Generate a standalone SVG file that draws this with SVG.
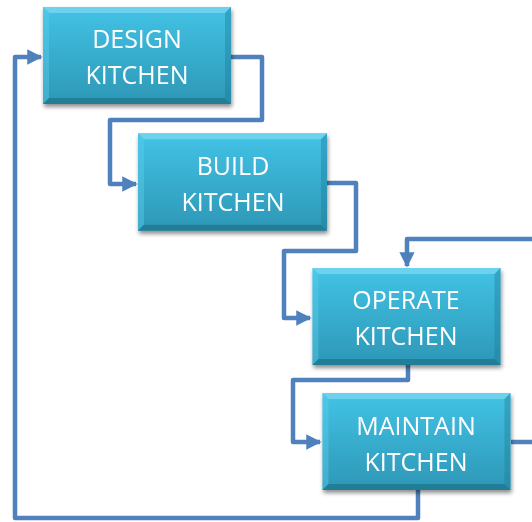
<svg xmlns="http://www.w3.org/2000/svg" width="532" height="522" viewBox="0 0 532 522">
<defs>
<linearGradient id="g" x1="0" y1="0" x2="0" y2="1">
<stop offset="0" stop-color="#42C3E6"/>
<stop offset="1" stop-color="#2D97B6"/>
</linearGradient>
<filter id="sh" x="-10%" y="-10%" width="130%" height="140%">
<feGaussianBlur in="SourceAlpha" stdDeviation="2"/>
<feOffset dx="1" dy="3" result="b"/>
<feComponentTransfer><feFuncA type="linear" slope="0.45"/></feComponentTransfer>
<feMerge><feMergeNode/><feMergeNode in="SourceGraphic"/></feMerge>
</filter>
<marker id="ar" viewBox="0 0 10 10" refX="9" refY="5" markerWidth="3.4" markerHeight="3.4" orient="auto" markerUnits="strokeWidth">
<path d="M0,0 L10,5 L0,10 z" fill="#4F81BD"/>
</marker>
<symbol id="box" viewBox="0 0 188 97" overflow="visible">
<rect x="0" y="0" width="188" height="97" fill="url(#g)"/>
<polygon points="0,0 188,0 182,6 6,6" fill="#8FE0F5" opacity="0.55"/>
<polygon points="0,0 6,6 6,91 0,97" fill="#5FD0EE" opacity="0.4"/>
<polygon points="188,0 188,97 182,91 182,6" fill="#1E7A95" opacity="0.4"/>
<polygon points="0,97 6,91 182,91 188,97" fill="#1A6A82" opacity="0.6"/>
</symbol>
</defs>
<style>
.c{fill:none;stroke:#4F81BD;stroke-width:4.5;stroke-linejoin:round}
.t{font-family:"Open Sans","Liberation Sans",sans-serif;font-size:25px;fill:#fff;text-anchor:middle}
</style>
<g id="connectors">
<path class="c" d="M231,57 H262 V120 H110 V184 H136" marker-end="url(#ar)"/>
<path class="c" d="M327,183 H356 V251 H284 V318 H310" marker-end="url(#ar)"/>
<path class="c" d="M408,365 V380 H293 V442 H320" marker-end="url(#ar)"/>
<path class="c" d="M511,442 H534 M534,239 H407 V266" marker-end="url(#ar)"/>
<path class="c" d="M418,490 V518 H15 V57 H41" marker-end="url(#ar)"/>
</g>
<g id="design" filter="url(#sh)">
<use href="#box" x="43" y="7" width="188" height="97"/>
<text class="t" x="137" y="48">DESIGN</text>
<text class="t" x="137" y="84">KITCHEN</text>
</g>
<g id="build" filter="url(#sh)">
<use href="#box" x="138" y="133" width="189" height="98"/>
<text class="t" x="233" y="175">BUILD</text>
<text class="t" x="233" y="211">KITCHEN</text>
</g>
<g id="operate" filter="url(#sh)">
<use href="#box" x="312" y="268" width="189" height="97"/>
<text class="t" x="406" y="309">OPERATE</text>
<text class="t" x="406" y="345">KITCHEN</text>
</g>
<g id="maintain" filter="url(#sh)">
<use href="#box" x="322" y="393" width="189" height="97"/>
<text class="t" x="416" y="435">MAINTAIN</text>
<text class="t" x="416" y="471">KITCHEN</text>
</g>
</svg>
